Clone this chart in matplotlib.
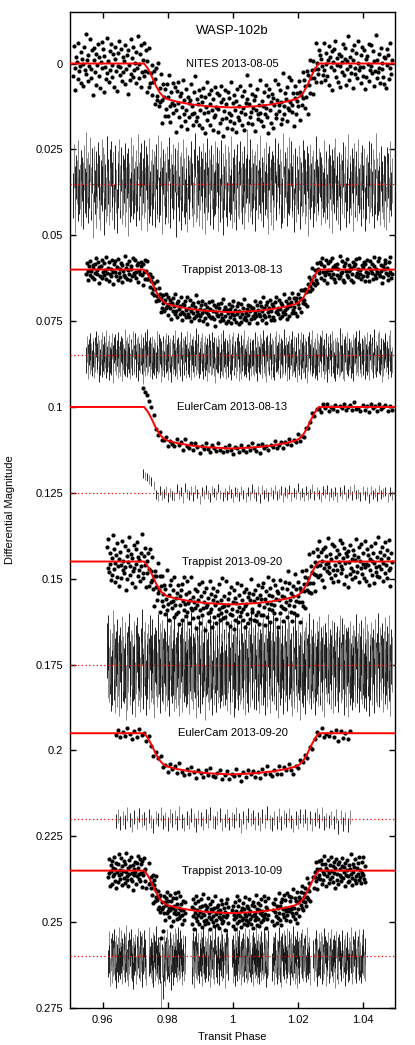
import numpy as np
import matplotlib
matplotlib.use("Agg")
import matplotlib.pyplot as plt

plt.rcParams['font.family'] = ['Liberation Sans', 'DejaVu Sans']

# model transit shape (phase, fraction of depth)
model_phase = [0.9500, 0.9728, 0.9740, 0.9752, 0.9764, 0.9776, 0.9788, 0.9800, 0.9830, 0.9870,
               0.9920, 0.9997, 1.0074, 1.0124, 1.0164, 1.0194, 1.0206, 1.0218, 1.0230, 1.0242,
               1.0254, 1.0266, 1.0500]
model_frac = [0, 0, 0.12, 0.30, 0.50, 0.66, 0.76, 0.81, 0.87, 0.925,
              0.97, 1.0, 0.97, 0.925, 0.87, 0.81, 0.76, 0.66, 0.50, 0.30,
              0.12, 0, 0]

labels = ["NITES 2013-08-05", "Trappist 2013-08-13", "EulerCam 2013-08-13",
          "Trappist 2013-09-20", "EulerCam 2013-09-20", "Trappist 2013-10-09"]
baselines = [0.0, 0.06, 0.1, 0.145, 0.195, 0.235]
resid_levels = [0.035, 0.085, 0.125, 0.175, 0.22, 0.26]
depths = [0.0128, 0.0124, 0.0121, 0.0125, 0.0120, 0.0124]
errbars = [0.0065, 0.0038, 0.0013, 0.0080, 0.0020, 0.0040]

# phase coverage of each run (segments for runs with gaps)
coverage = [
    [(0.9510, 1.0490, 440)],
    [(0.9550, 1.0490, 440)],
    [(0.9725, 1.0490, 120)],
    [(0.9614, 1.0490, 440)],
    [(0.9640, 1.0362, 100)],
    [(0.9618, 0.9733, 70), (0.9743, 0.9854, 70), (0.9874, 0.9987, 70),
     (0.9999, 1.0110, 70), (1.0122, 1.0238, 70), (1.0249, 1.0408, 90)],
]

# residuals from the model, in units of 0.1 mmag
res_nites = [35, -52, 12, 78, -20, -5, 44, -61, 23, 8,
             -33, 57, -14, 2, 66, -48, 19, -87, 31, -9,
             50, -26, 7, -70, 41, 15, -38, 92, -11, -45,
             24, 63, -29, 5, -56, 37, -18, 71, -3, -64,
             13, -41, 84, -22, 9, 46, -75, 28, -7, 55,
             -36, 18, -58, 40, 3, -27, 67, -13, -49, 21,
             79, -31, 6, -66, 34, 11, -43, 52, -19, 26,
             -8, 60, -53, 16, -24, 88, -39, 4, 47, -71,
             30, -15, 38, -47, 20, -2, 58, -34, 14, -80,
             42, 1, -28, 69, -55, 25, -10, 36, -62, 17,
             -46, 73, -21, 10, 49, -68, 29, -4, 56, -37,
             8, -30, 62, -16, -51, 39, 22, -77, 45, -12,
             27, -59, 15, 81, -35, -1, 53, -25, 32, -44,
             -6, 48, -72, 19, 64, -23, 7, -50, 37, 11,
             -40, 26, 90, -32, 2, -57, 43, -17, 70, -28,
             14, -65, 33, -9, 51, -42, 18, 75, -20, -3,
             39, -12, -60, 28, 5, 61, -37, 23, -84, 46,
             -18, 35, -4, 57, -46, 12, -29, 66, -11, -53,
             21, 80, -26, 3, -69, 41, 16, -35, 54, -7,
             -48, 9, 68, -22, 30, -58, 24, 1, -41, 73,
             6, -33, 47, -15, -62, 36, 85, -24, 12, -50,
             31, -8, 59, -44, 17, -27, 40, -73, 22, 63,
             -14, 45, -37, 8, 71, -19, -52, 29, -2, 38,
             -60, 16, 52, -31, 4, 67, -45, 20, -10, -93,
             -22, 47, -8, 31, -64, 15, 52, -37, 6, -18,
             73, -29, 11, -51, 24, 38, -3, -76, 20, 44,
             -13, 2, 61, -40, 27, -57, 9, 35, -25, 82,
             -46, 17, -6, 54, -31, 70, -19, 3, -68, 29,
             41, -11, -55, 22, 7, -36, 63, -2, 48, -84,
             12, 36, -27, -9, 58, -43, 19, -70, 26, 5,
             -59, 33, 14, -21, 76, -4, -38, 45, -15, 9,
             23, -48, 67, -12, 1, 30, -63, 16, -34, 51,
             -7, 28, -45, 86, -24, 10, 39, -52, 4, -16,
             60, -33, 21, -1, -73, 44, -8, 25, 13, -39,
             -26, 55, -14, 7, 32, -61, 18, 49, -30, 2,
             37, -9, -50, 64, -20, 11, -35, 78, -5, -42,
             19, -67, 40, 3, -17, 53, -28, 8, 69, -23,
             -3, 24, -56, 34, -12, -44, 62, -7, 15, -79,
             48, -19, 6, 27, -38, 72, -10, -54, 31, 14,
             -31, 43, -2, -65, 20, 9, 57, -26, -47, 35,
             10, -40, 74, -14, 39, -22, 1, 50, -58, 18,
             -53, 7, 29, -36, 65, -6, 23, -82, 42, -11,
             26, -28, 13, 56, -45, 17, -1, 38, -19, 61,
             -15, 71, -41, 4, -24, 46, 12, -60, 30, -9]

res_trap1 = [12, -20, 5, 31, -9, 17, -26, 3, 22, -14,
             -4, 28, -17, 9, -33, 14, 1, -22, 38, -7,
             19, -11, 24, -29, 6, 15, -18, 0, 27, -36,
             10, -5, 33, -21, 13, -2, 20, -27, 8, 41,
             -15, 7, -24, 18, -8, 29, -31, 11, -3, 23,
             -19, 35, -12, 4, 16, -40, 21, -6, 26, -16,
             2, -25, 14, 30, -10, -1, 19, -34, 9, 17,
             -28, 6, 24, -13, 37, -20, 3, 12, -9, -23,
             15, 44, -17, 8, -30, 22, -4, 18, -38, 11,
             -7, 26, -15, 1, 32, -19, 13, -11, 20, -2,
             28, -32, 7, 16, -24, 10, -13, 39, -5, 21,
             -18, 3, 25, -9, 14, -27, 6, 33, -21, 0,
             9, -14, 40, -6, -22, 17, 2, -35, 23, 13,
             -10, 30, -16, 5, 21, -4, -29, 12, 36, -12,
             18, -8, -20, 27, 4, -33, 15, -2, 24, -26,
             7, 34, -11, -18, 11, 26, -7, 19, -42, 3,
             -24, 12, 29, -3, 16, -15, 8, -28, 31, -1,
             22, -19, 4, 37, -12, 9, -25, 14, -6, 20,
             -30, 16, -2, 23, -17, 42, 1, -13, 10, -21,
             13, -9, 27, -26, 6, 18, -36, 24, -4, 11,
             -14, 31, -7, 2, 25, -23, 15, -10, 33, -18,
             5, -31, 19, 10, -5, 28, -16, 7, -27, 36,
             -3, 14, -22, 30, 8, -11, 21, -37, 17, 4,
             26, -6, 11, -19, 34, -14, -1, 22, -8, 15,
             -9, 21, -30, 6, 14, -18, 35, -3, 10, -25,
             17, -12, 2, 28, -37, 13, -6, 22, -15, 40,
             -21, 8, 19, -4, -27, 31, 5, -14, 24, -8,
             33, -19, 11, -32, 7, 16, -1, -24, 29, 3,
             -13, 26, -7, 15, -39, 20, 9, -17, 4, 36,
             -5, -22, 30, 1, -11, 23, -34, 14, 6, -20,
             25, -8, -16, 38, -26, 4, 18, -10, 32, -29,
             0, 13, -23, 9, 27, -14, -3, 41, -19, 7,
             -31, 16, 5, -9, 22, -36, 12, -2, 28, -12,
             19, -27, 34, -6, 10, 3, -21, 25, -15, -35,
             8, 30, -11, 17, -28, 6, 39, -18, 2, 14,
             -24, 1, 21, -33, 12, -7, 27, -13, 36, -4,
             15, -16, -2, 24, -41, 18, 9, -26, 7, 31,
             -10, 35, -20, 3, 16, -30, 23, 4, -12, -1,
             29, -6, 12, -23, 37, -9, -17, 20, -32, 10,
             -3, 22, -35, 13, 1, 26, -14, -8, 18, -22,
             32, -15, 6, -29, 20, 11, -5, 34, -24, 2,
             -17, 9, 27, -11, -38, 15, 24, -3, 8, -26,
             13, -33, 18, 5, -14, 39, -9, 21, -1, -18,
             -28, 10, -4, 30, 16, -21, 7, -36, 25, 12]

res_euler1 = [-55, -49, -46, -40, -33, -22, 4, 11, -6, 9,
              3, -8, 14, -2, 7, 10, -12, 5, -4, 16,
              -15, 2, 8, -6, 12, -9, 1, 19, -3, 6,
              -11, 4, 13, -7, 0, 9, -14, 5, 11, -2,
              7, -10, 3, 15, -5, -1, 10, -8, 6, 13,
              -4, 8, -13, 2, 11, -6, 17, -9, 4, -1,
              12, -3, 6, -11, 9, 1, -7, 14, -5, 3,
              -9, 10, -2, 5, -16, 8, 0, 12, -6, 7,
              2, -12, 9, -4, 6, 15, -8, 3, -10, 11,
              -1, 7, -5, 13, -3, 4, -9, 10, 1, -7,
              8, -14, 5, 2, 12, -6, 9, -3, 16, -8,
              4, -2, 11, -10, 6, 0, -5, 13, -4, 9]

res_trap2 = [-42, 18, -65, 30, 7, -24, 55, -11, 39, -78,
             22, -37, 4, 61, -19, 45, -53, 13, -6, 70,
             -28, 9, 47, -60, 25, -2, 33, -45, 16, 82,
             -15, 52, -33, 1, -70, 38, 12, -21, 64, -9,
             27, -48, 19, 73, -36, 6, -57, 41, -13, 24,
             -3, 58, -26, 14, -81, 32, 48, -17, 8, -44,
             66, -12, 21, -39, 3, 50, -63, 29, -5, 17,
             -54, 36, -8, 77, -30, 11, -22, 43, -68, 15,
             5, -41, 62, -14, 26, -49, 2, 35, -27, 56,
             -19, 10, -74, 40, 23, -6, 69, -35, 13, -51,
             31, -23, 8, 54, -62, 20, -1, 46, -16, 37,
             -40, 71, -9, 16, -29, 59, -47, 4, 28, -66,
             12, -18, 44, -56, 34, 7, -25, 63, -4, 20,
             -72, 26, -13, 49, 1, -38, 18, 75, -31, 9,
             43, -7, -52, 22, 60, -20, 35, -59, 14, -2,
             -33, 80, 11, -43, 6, 29, -15, 51, -64, 24,
             17, -27, 68, -10, -46, 39, 3, -21, 57, -37,
             -5, 33, -58, 15, 47, -11, 25, -76, 10, 42,
             -24, 6, 38, -67, 21, 55, -14, 2, -32, 64,
             28, -50, 13, 30, -8, -41, 72, -18, 46, -3,
             -61, 19, 52, -26, 9, 36, -54, 23, -12, 48,
             15, -35, 7, 67, -44, 1, 31, -20, 58, -30,
             -9, 44, -70, 24, 16, -28, 50, -6, -39, 34,
             53, -16, 27, -53, 5, 62, -23, 37, -11, -45,
             37, -56, 14, -9, 68, -31, 3, 44, -72, 21,
             -18, 60, -40, 8, 26, -15, -63, 35, 12, -47,
             52, -4, -29, 77, -20, 1, 39, -58, 17, -11,
             -35, 24, 63, -6, -49, 30, 10, -27, 55, -79,
             19, -43, 6, 41, -13, 70, -32, -2, 28, 47,
             -66, 13, -21, 58, 4, -38, 22, 81, -14, -5,
             31, -59, 45, -17, 9, -30, 64, -44, 2, 23,
             -8, 36, -71, 18, 50, -24, -3, 33, -52, 15,
             67, -12, 27, -46, 5, 42, -19, -61, 38, 11,
             -28, 54, -1, -36, 20, 73, -41, 7, -15, 29,
             3, -68, 34, 16, -23, 48, -7, -50, 25, 61,
             -45, 9, 40, -14, -33, 26, 57, -22, 1, -64,
             14, 32, -55, 21, -10, -39, 66, 5, -26, 43,
             -17, 74, -30, 2, 37, -48, 18, -6, 52, -34,
             28, -20, -4, 45, -67, 12, 31, -13, 59, -42,
             -2, 20, -50, 35, 8, -26, 47, -60, 16, 6,
             56, -37, 11, -19, 69, -8, 24, -44, -1, 38,
             -24, 5, 62, -53, 15, 30, -12, 41, -70, 13,
             44, -29, -7, 23, -41, 57, 3, -18, 34, -57,
             10, 48, -33, -11, 26, -64, 19, 71, -24, 0]

res_euler2 = [5, -8, 12, -3, 9, -14, 2, 17, -6, 10,
              -11, 4, -2, 13, -9, 7, 20, -5, 1, -15,
              8, -1, 15, -10, 3, -7, 11, -18, 6, 14,
              -4, 9, -13, 2, 18, -6, 0, 12, -9, 5,
              -16, 7, 10, -3, -12, 16, 4, -8, 13, -1,
              6, -14, 3, 21, -5, 9, -11, 1, -7, 12,
              -2, 15, -9, 5, -17, 8, 14, -4, 10, -12,
              11, -6, 2, -13, 7, 19, -3, 9, -10, 4,
              -8, 13, -5, 16, 0, -11, 6, -15, 12, 3,
              7, -4, 10, -9, 22, -7, 14, -2, 18, -6]

res_trap3 = [20, -34, 8, 45, -15, 2, -27, 38, -9, 16,
             -41, 11, 29, -6, 52, -22, 5, -18, 33, -47,
             14, -3, 25, -36, 9, 41, -13, 0, -29, 21,
             35, -20, 4, -52, 17, 28, -8, 46, -31, 10,
             -12, 23, -40, 7, 31, -17, 55, -4, 13, -26,
             3, 39, -21, 15, -7, -44, 24, 10, -35, 30,
             -19, 6, 48, -28, 12, 1, -38, 27, -10, 43,
             18, -45, 9, 22, -14, 36, -2, -30, 50, -8,
             -24, 32, -5, 14, -49, 19, 7, 40, -16, -1,
             26, -11, 37, 110, 4, 21, 85, 13, 30, -22,
             -6, 47, -18, 2, 25, -39, 16, -12, 34, 8,
             -30, 11, 58, -15, 6, -25, 42, -3, 19, -42,
             9, -27, 20, 33, -10, 15, -46, 28, -1, 24,
             -37, 5, -14, 44, 18, -23, 3, 31, -19, 12,
             40, -9, -32, 17, -4, 53, -21, 8, -43, 22,
             -2, 29, 13, -28, 38, -11, 1, -35, 16, 45,
             -16, 7, -50, 26, 10, -20, 35, -6, 23, -13,
             32, -40, 15, 4, -24, 48, -9, 19, -3, -33,
             11, 27, -12, 39, -47, 6, 21, -17, 36, -5,
             -21, 14, 44, -8, 0, -36, 18, 30, -26, 9,
             24, -14, -3, 51, -29, 12, -41, 7, 28, -18,
             -10, 36, -22, 5, 17, -31, 46, -7, 13, -48,
             30, 2, -19, 25, -38, 10, -5, 42, -15, 20,
             -27, 16, 34, -11, 3, -44, 22, 11, -20, 38,
             -14, 28, 6, -39, 19, -3, 33, -22, 11, 45,
             -30, 8, -17, 24, 2, -48, 15, 37, -9, -25,
             21, -6, 41, -19, 4, 30, -35, 12, -2, 26,
             -43, 17, 9, -28, 50, -12, 23, -5, -37, 14,
             31, -21, 1, 44, -16, 7, -31, 20, 39, -10,
             -4, 25, -46, 13, 34, -8, -19, 48, -27, 3,
             16, -38, 27, -1, -22, 36, 10, -42, 22, 5,
             -33, 12, 43, -15, 8, -26, 19, 2, -50, 29,
             7, 40, -20, 24, -11, 53, -34, 15, -6, -18,
             38, -9, -29, 11, 22, -40, 6, 32, -13, 1,
             -24, 19, 35, -45, 14, -3, 26, -17, 9, 42,
             -7, 31, -14, 3, -36, 21, 47, -10, 18, -28,
             13, -5, 24, -32, 40, -19, 4, 28, -44, 10,
             -20, 46, -9, 16, -2, -30, 37, 8, -15, 23,
             2, -41, 18, 33, -12, 6, -24, 51, -7, -35,
             27, 11, -18, 39, -26, 14, -4, 20, 30, -13,
             -38, 22, 5, -10, 45, -23, 12, -1, -31, 17,
             34, -16, 29, -6, 9, -47, 21, 41, -19, 4,
             -11, 26, -33, 15, 37, -8, -21, 10, 28, -40,
             19, -2, 36, -25, 7, 13, -39, 24, -14, 32]

residuals = [res_nites, res_trap1, res_euler1, res_trap2, res_euler2, res_trap3]

yticks = [0, 0.025, 0.05, 0.075, 0.1, 0.125, 0.15, 0.175, 0.2, 0.225, 0.25, 0.275]
ytick_labels = ["0", "0.025", "0.05", "0.075", "0.1", "0.125", "0.15", "0.175",
                "0.2", "0.225", "0.25", "0.275"]
xticks = [0.96, 0.98, 1.0, 1.02, 1.04]
xtick_labels = ["0.96", "0.98", "1", "1.02", "1.04"]

fig = plt.figure(figsize=(4.15, 10.45), dpi=100)
ax = fig.add_axes([70/415, 37/1045, 325/415, 996/1045])

mph = np.array(model_phase)
mfr = np.array(model_frac)

for i in range(6):
    phase = np.concatenate([np.linspace(a, b, n) for a, b, n in coverage[i]])
    res = np.array(residuals[i]) * 1e-4
    model_at = baselines[i] + depths[i] * np.interp(phase, mph, mfr)
    mags = model_at + res

    # data points
    ax.plot(phase, mags, 'o', color='black', ms=3.0, mew=0, zorder=3)
    # model line
    ax.plot(mph, baselines[i] + depths[i] * mfr, color='red', lw=1.4, zorder=4)
    # label
    ax.text(1.0, baselines[i], labels[i], ha='center', va='center', fontsize=8, zorder=5)

    # residuals as error bars
    cols = ['black' if k % 2 == 0 else '0.45' for k in range(len(phase))]
    ax.vlines(phase, resid_levels[i] + res - errbars[i], resid_levels[i] + res + errbars[i],
              colors=cols, lw=0.6, zorder=2)
    ax.axhline(resid_levels[i], color='red', ls=(0, (1, 2)), lw=0.9, zorder=3)

ax.text(1.0, -0.0096, "WASP-102b", ha='center', va='center', fontsize=9.5)

ax.set_xlim(0.95, 1.05)
ax.set_ylim(0.275, -0.015)
ax.set_xticks(xticks)
ax.set_xticklabels(xtick_labels)
ax.set_yticks(yticks)
ax.set_yticklabels(ytick_labels)
ax.tick_params(direction='in', length=4, width=1, labelsize=8, top=True, right=True, pad=5)
for sp in ax.spines.values():
    sp.set_linewidth(1)

fig.text(10/415, 0.5 * (37 + 1033) / 1045, "Differential Magnitude", rotation=90,
         ha='center', va='center', fontsize=8)
fig.text(232/415, 8/1045, "Transit Phase", ha='center', va='center', fontsize=8)

fig.savefig("out.png", dpi=100)
